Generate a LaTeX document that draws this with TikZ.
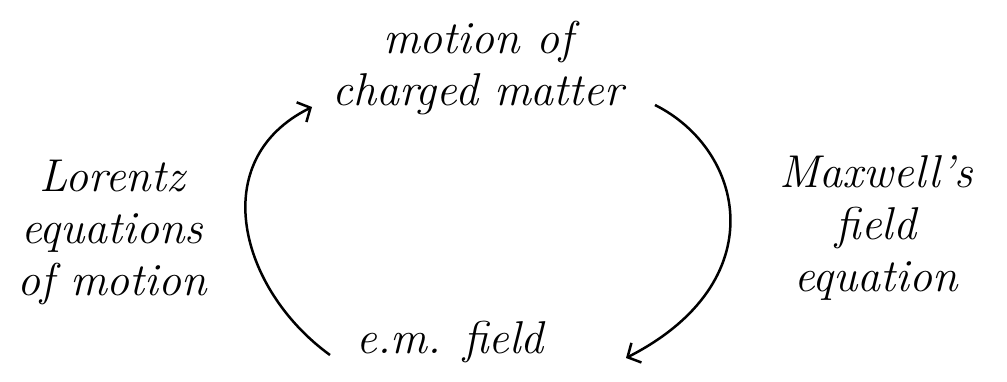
\documentclass[tikz,border=0pt]{standalone}
\usetikzlibrary{arrows.meta}
\begin{document}
\begin{tikzpicture}[x=1pt,y=-1pt,
  hand/.style={font=\fontsize{46}{52}\selectfont\itshape, align=center, inner sep=0pt},
  loop/.style={line width=2.5pt, -{Straight Barb[length=10pt,width=22pt,line width=2.5pt]}}]
\useasboundingbox (0,0) rectangle (1007,382);
\node[hand] (top) at (478,68) {motion of\\ charged matter};
\node[hand] (lor) at (112,232) {Lorentz\\ equations\\ of motion};
\node[hand] (max) at (876,228) {Maxwell's\\ field\\ equation};
\node[hand] (em) at (450,342) {e.m. field};
\coordinate (l0) at (330,355);
\coordinate (l1) at (312,107);
\coordinate (r0) at (655,105);
\coordinate (r1) at (626,358);
\draw[loop] (l0) .. controls (240,290) and (205,160) .. (l1);
\draw[loop] (r0) .. controls (745,150) and (775,282) .. (r1);
\end{tikzpicture}
\end{document}
